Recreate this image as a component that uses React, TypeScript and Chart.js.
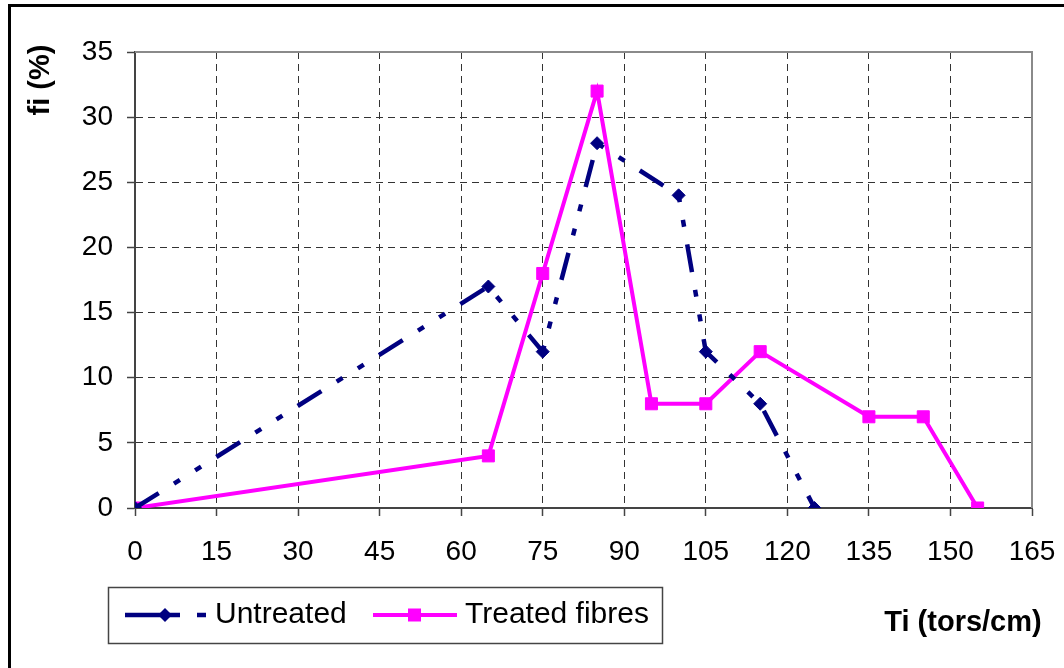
import React, { useEffect, useRef } from "react";
import { Chart, registerables } from "chart.js";

Chart.register(...registerables);

const untreatedX = [0, 65, 75, 85, 100, 105, 115, 125];
const untreatedY = [0, 17, 12, 28, 24, 12, 8, 0];
const treatedX = [0, 65, 75, 85, 95, 105, 115, 135, 145, 155];
const treatedY = [0, 4, 18, 32, 8, 8, 12, 7, 7, 0];
const seriesNames = ["Untreated", "Treated fibres"];
const xTitle = "Ti (tors/cm)";
const yTitle = "fi (%)";

const NAVY = "#000080";
const MAGENTA = "#FF00FF";
const FONT = "'Liberation Sans', Arial, sans-serif";
const UNTREATED_DASH = [28, 18, 7, 18, 7, 18];

const decorPlugin = {
  id: "decor",
  beforeDatasetsDraw(chart: any) {
    const { ctx, chartArea } = chart;
    ctx.save();
    ctx.strokeStyle = "#8a8a8a";
    ctx.lineWidth = 2;
    ctx.beginPath();
    ctx.moveTo(chartArea.left, chartArea.top);
    ctx.lineTo(chartArea.right, chartArea.top);
    ctx.lineTo(chartArea.right, chartArea.bottom);
    ctx.stroke();
    ctx.restore();
  },
  afterDraw(chart: any) {
    const { ctx } = chart;
    ctx.save();
    // outer frame
    ctx.strokeStyle = "#000";
    ctx.lineWidth = 3;
    ctx.strokeRect(9.5, 5.5, 1200, 1000);

    // axis titles
    ctx.fillStyle = "#000";
    ctx.font = `bold 29px ${FONT}`;
    ctx.textAlign = "center";
    ctx.textBaseline = "middle";
    ctx.fillText(xTitle, 963, 623);
    ctx.save();
    ctx.translate(41, 80);
    ctx.rotate(-Math.PI / 2);
    ctx.fillText(yTitle, 0, 0);
    ctx.restore();

    // legend box
    ctx.strokeStyle = "#444";
    ctx.lineWidth = 1.5;
    ctx.strokeRect(108.5, 587.5, 554, 56);

    const ly = 615;
    // untreated sample
    ctx.strokeStyle = NAVY;
    ctx.lineWidth = 4.5;
    ctx.beginPath();
    ctx.moveTo(125, ly);
    ctx.lineTo(180, ly);
    ctx.moveTo(197, ly);
    ctx.lineTo(206, ly);
    ctx.stroke();
    ctx.fillStyle = NAVY;
    ctx.beginPath();
    ctx.moveTo(165 - 7, ly);
    ctx.lineTo(165, ly - 7);
    ctx.lineTo(165 + 7, ly);
    ctx.lineTo(165, ly + 7);
    ctx.closePath();
    ctx.fill();
    // treated sample
    ctx.strokeStyle = MAGENTA;
    ctx.lineWidth = 4;
    ctx.beginPath();
    ctx.moveTo(373, ly);
    ctx.lineTo(457, ly);
    ctx.stroke();
    ctx.fillStyle = MAGENTA;
    ctx.fillRect(408, ly - 6.5, 13, 13);

    ctx.fillStyle = "#000";
    ctx.font = `30px ${FONT}`;
    ctx.textAlign = "left";
    ctx.fillText(seriesNames[0], 215, ly);
    ctx.fillText(seriesNames[1], 465, ly);
    ctx.restore();
  },
};

export default function App() {
  const ref = useRef<HTMLCanvasElement | null>(null);
  useEffect(() => {
    if (!ref.current) return;
    const chart = new Chart(ref.current, {
      type: "line",
      data: {
        datasets: [
          {
            label: seriesNames[0],
            data: untreatedX.map((x, i) => ({ x, y: untreatedY[i] })),
            borderColor: NAVY,
            backgroundColor: NAVY,
            borderWidth: 4.5,
            borderDash: UNTREATED_DASH,
            pointStyle: "rectRot",
            pointRadius: 6.5,
            pointBorderWidth: 1,
            pointBackgroundColor: NAVY,
            pointBorderColor: NAVY,
            tension: 0,
            fill: false,
          },
          {
            label: seriesNames[1],
            data: treatedX.map((x, i) => ({ x, y: treatedY[i] })),
            borderColor: MAGENTA,
            backgroundColor: MAGENTA,
            borderWidth: 4,
            pointStyle: "rect",
            pointRadius: 8.5,
            pointBorderWidth: 1,
            pointBackgroundColor: MAGENTA,
            pointBorderColor: MAGENTA,
            tension: 0,
            fill: false,
          },
        ],
      },
      options: {
        animation: false,
        responsive: false,
        layout: { padding: { left: 0, right: 32, top: 52, bottom: 0 } },
        plugins: { legend: { display: false }, tooltip: { enabled: false } },
        scales: {
          x: {
            type: "linear",
            min: 0,
            max: 165,
            afterFit: (s: any) => {
              s.height = 160;
              s.paddingLeft = 0;
              s.paddingRight = 0;
            },
            ticks: {
              stepSize: 15,
              autoSkip: false,
              maxRotation: 0,
              color: "#000",
              padding: 19,
              font: { family: FONT, size: 28 },
            },
            grid: {
              color: "#333",
              lineWidth: 1,
              tickLength: 8,
              tickColor: "#444",
              tickWidth: 1.5,
            },
            border: { display: true, color: "#444", width: 2, dash: [7, 5] },
          },
          y: {
            type: "linear",
            min: 0,
            max: 35,
            afterFit: (s: any) => {
              s.width = 135;
              s.paddingTop = 0;
              s.paddingBottom = 0;
            },
            ticks: {
              stepSize: 5,
              color: "#000",
              padding: 14,
              font: { family: FONT, size: 28 },
            },
            grid: {
              color: "#333",
              lineWidth: 1,
              tickLength: 8,
              tickColor: "#444",
              tickWidth: 1.5,
            },
            border: { display: true, color: "#444", width: 2, dash: [7, 5] },
          },
        },
      },
      plugins: [decorPlugin],
    });
    return () => chart.destroy();
  }, []);
  return (
    <canvas
      ref={ref}
      width={1064}
      height={668}
      style={{ position: "absolute", left: 0, top: 0, width: 1064, height: 668 }}
    />
  );
}
